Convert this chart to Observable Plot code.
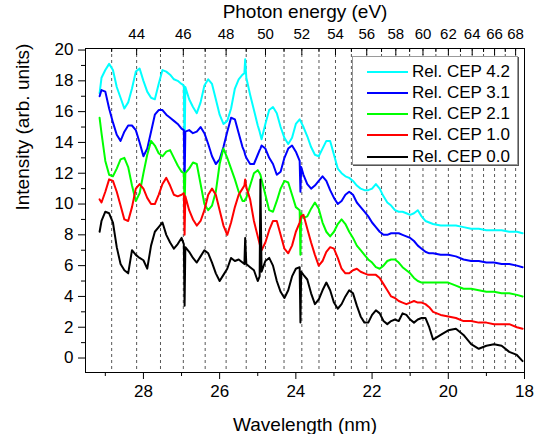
<!DOCTYPE html>
<html>
<head>
<meta charset="utf-8">
<script src="https://cdn.jsdelivr.net/npm/d3@7"></script>
<script src="https://cdn.jsdelivr.net/npm/@observablehq/plot@0.6"></script>
<style>
  body { margin: 0; background: #fff; }
  #wrap { position: relative; width: 535px; height: 434px; font-family: "Liberation Sans", Arial, sans-serif; }
  #legend { position: absolute; left: 352px; top: 56px; width: 166px; height: 109px; background: #fff;
            border: 1px solid #9a9a9a; box-shadow: 1px 1px 0 #555; box-sizing: border-box; }
  .lrow { position: absolute; left: 0; height: 20px; width: 166px; }
  .lline { position: absolute; left: 14px; width: 41px; top: 9px; height: 2px; }
  .ltext { position: absolute; left: 59px; top: 0; font-size: 17px; line-height: 20px; color: #000; white-space: nowrap; }
</style>
</head>
<body>
<div id="wrap"><div id="legend"></div></div>
<script>
// Wavelength grid (nm)
const wavelength = [29.15,29.1,29.0,28.9,28.8,28.7,28.6,28.5,28.4,28.3,28.2,28.1,28.0,27.9,27.8,27.7,27.6,27.5,27.4,27.3,27.2,27.1,27.0,26.94,26.92,26.9,26.8,26.7,26.6,26.5,26.4,26.3,26.2,26.1,26.0,25.9,25.8,25.7,25.6,25.5,25.4,25.35,25.33,25.3,25.2,25.1,25.0,24.95,24.93,24.9,24.8,24.7,24.6,24.5,24.4,24.3,24.2,24.1,24.0,23.9,23.88,23.86,23.8,23.7,23.6,23.5,23.4,23.3,23.2,23.1,23.0,22.9,22.8,22.7,22.6,22.5,22.4,22.3,22.2,22.1,22.0,21.9,21.8,21.7,21.6,21.5,21.4,21.3,21.2,21.1,21.0,20.9,20.8,20.7,20.6,20.5,20.4,20.2,20.0,19.8,19.6,19.4,19.2,19.0,18.8,18.6,18.4,18.2,18.05];

// Intensity series (arb. units)
const cep42 = [17.2,18.2,18.7,19.1,18.7,17.6,16.9,16.2,16.6,17.5,18.6,18.8,18.0,17.3,16.9,16.8,17.8,18.7,18.6,18.4,18.1,18.0,17.8,17.7,13.4,17.6,16.8,16.3,15.9,16.6,17.7,18.1,17.8,16.8,15.8,15.2,15.4,16.2,17.5,18.1,18.4,18.5,19.4,18.2,17.1,16.1,15.1,14.7,14.5,14.2,15.2,16.1,16.3,15.9,15.0,14.3,13.9,14.3,15.2,15.5,15.4,15.3,15.0,14.4,13.7,13.2,13.1,13.6,14.1,14.1,13.2,12.3,12.0,11.8,11.7,11.5,11.2,11.0,10.9,10.9,11.0,11.3,11.0,10.5,10.1,9.9,9.6,9.5,9.5,9.4,9.3,9.4,9.6,9.2,8.9,8.8,8.7,8.6,8.6,8.6,8.5,8.4,8.4,8.3,8.3,8.3,8.2,8.2,8.1];
const cep31 = [17.0,17.4,17.3,16.2,15.3,14.5,14.1,14.7,15.1,15.1,14.8,14.0,13.1,13.6,14.7,15.8,16.1,16.1,15.8,15.6,15.4,15.2,14.9,14.8,11.3,14.7,14.8,14.6,14.7,15.0,14.6,13.9,13.1,12.6,12.9,13.7,14.7,15.6,15.5,14.6,13.7,13.4,13.2,13.0,12.6,12.6,13.2,13.5,13.6,13.8,13.6,13.0,12.6,11.9,12.1,13.0,13.6,13.8,13.4,12.8,10.8,12.4,11.9,11.3,11.0,11.2,11.5,11.8,11.5,10.9,10.4,10.0,10.2,10.6,10.8,10.6,10.1,9.8,9.5,9.2,8.8,8.5,8.2,8.0,8.0,8.1,8.1,8.1,8.0,7.9,7.8,7.6,7.3,7.1,6.9,6.8,6.8,6.7,6.7,6.6,6.4,6.3,6.3,6.2,6.2,6.1,6.1,6.0,5.9];
const cep21 = [15.6,14.6,12.8,11.9,11.8,12.3,12.9,13.0,12.4,11.2,10.2,10.7,12.0,13.2,14.1,13.8,13.3,13.1,13.4,13.5,13.0,12.5,12.1,12.0,9.8,12.0,12.3,12.7,12.6,11.3,10.0,9.6,9.9,10.8,12.6,13.6,13.0,12.3,11.6,10.8,10.2,10.2,10.3,10.4,11.2,12.0,12.2,12.0,11.9,11.6,10.6,9.6,9.5,10.2,11.0,11.5,11.4,10.6,9.8,9.6,6.7,9.4,9.1,9.2,9.7,10.1,9.7,8.8,8.2,7.9,8.2,8.7,9.0,8.7,8.2,7.8,7.3,7.0,6.7,6.4,6.2,5.9,5.8,6.0,6.3,6.4,6.4,6.2,5.9,5.7,5.5,5.2,5.0,4.9,4.9,4.9,4.9,4.9,4.9,4.7,4.5,4.5,4.4,4.3,4.3,4.2,4.2,4.1,4.0];
const cep10 = [10.3,10.1,10.8,11.6,11.5,10.8,9.9,9.0,8.9,9.8,11.0,11.3,11.0,10.4,10.0,10.0,10.6,11.3,11.7,11.2,10.6,10.5,10.6,10.7,8.0,10.5,9.6,9.0,8.6,8.9,9.6,10.6,11.0,10.6,9.6,8.6,8.0,8.8,9.8,10.6,11.0,11.2,11.6,11.1,10.3,8.9,7.9,7.4,7.2,7.0,7.5,8.3,8.9,8.9,8.0,7.1,6.8,7.3,8.2,8.8,9.0,9.2,9.3,8.4,7.5,6.7,6.0,6.3,6.9,7.2,7.1,6.5,5.8,5.5,5.5,5.7,5.8,5.6,5.5,5.4,5.4,5.4,5.2,4.8,4.4,4.0,3.9,3.7,3.6,3.5,3.6,3.7,3.6,3.6,3.5,3.3,3.0,2.8,2.7,2.6,2.4,2.4,2.3,2.3,2.2,2.2,2.2,2.0,1.9];
const cep00 = [8.2,8.9,9.5,9.4,8.8,7.2,6.1,5.7,5.5,7.0,6.7,6.5,6.35,5.8,7.3,8.2,8.5,8.8,8.0,7.5,7.1,7.4,7.8,7.4,3.4,7.2,6.9,6.5,6.2,6.6,7.0,6.8,6.2,5.5,5.0,5.4,5.8,6.5,6.3,6.4,6.2,6.1,7.8,6.1,5.9,5.7,5.0,5.3,11.6,5.6,6.3,6.5,6.0,5.0,4.3,3.9,4.4,5.3,5.8,5.9,2.3,5.6,5.4,5.1,4.2,3.5,3.8,4.4,4.9,4.4,3.6,3.2,3.5,4.0,4.4,4.2,3.4,2.7,2.3,2.3,2.8,3.1,2.9,2.4,2.2,2.4,2.5,2.4,2.9,2.8,2.5,2.3,2.5,2.6,2.6,2.0,1.2,1.5,1.8,1.9,1.5,0.9,0.6,0.8,0.9,0.8,0.4,0.2,-0.2];

const seriesNames = ["Rel. CEP 4.2", "Rel. CEP 3.1", "Rel. CEP 2.1", "Rel. CEP 1.0", "Rel. CEP 0.0"];
const seriesColors = ["#00ffff", "#0000ff", "#00ff00", "#ff0000", "#000000"];
const seriesValues = [cep42, cep31, cep21, cep10, cep00];

// Axis ticks
const wavelengthTicks = [18, 20, 22, 24, 26, 28];
const wavelengthMinor = [19, 21, 23, 25, 27, 29];
const intensityTicks = [0, 2, 4, 6, 8, 10, 12, 14, 16, 18, 20];
const intensityMinor = [1, 3, 5, 7, 9, 11, 13, 15, 17, 19];
const energyTicks = [44, 46, 48, 50, 52, 54, 56, 58, 60, 62, 64, 66, 68];
const energyMinor = [43, 45, 47, 49, 51, 53, 55, 57, 59, 61, 63, 65, 67];
const energyGrid = [43,44,45,46,47,48,49,50,51,52,53,54,55,56,57,58,59,60,61,62,63,64,65,66,67,68];

const HC = 1239.84; // eV·nm
const toLambda = e => HC / e;

const rows = seriesNames.map((name, s) => wavelength.map((w, i) => ({series: name, wavelength: w, intensity: seriesValues[s][i]})));

const font = "Liberation Sans, Arial, sans-serif";
const chart = Plot.plot({
  width: 535,
  height: 434,
  marginLeft: 85,
  marginRight: 11,
  marginTop: 48,
  marginBottom: 62,
  style: {fontFamily: font, background: "white", color: "black", overflow: "visible"},
  x: {domain: [29.52, 18]},
  y: {domain: [-0.94, 20.1]},
  marks: [
    Plot.ruleX(energyGrid.map(toLambda), {stroke: "#444", strokeWidth: 0.9, strokeDasharray: "3,3"}),
    ...rows.map((data, s) => Plot.line(data, {x: "wavelength", y: "intensity", stroke: seriesColors[s], strokeWidth: 2})),
    Plot.frame({stroke: "#000", strokeWidth: 1}),
    Plot.axisX(wavelengthTicks, {anchor: "bottom", tickSize: 7, tickPadding: 5, fontSize: 17, label: null}),
    Plot.axisX(wavelengthMinor, {anchor: "bottom", tickSize: 4, tickFormat: () => "", label: null}),
    Plot.axisY(intensityTicks, {anchor: "left", tickSize: 7, tickPadding: 5, fontSize: 17, label: null}),
    Plot.axisY(intensityMinor, {anchor: "left", tickSize: 4, tickFormat: () => "", label: null}),
    Plot.axisX(energyTicks.map(toLambda), {anchor: "top", tickSize: 0, tickPadding: 10, fontSize: 15, label: null, tickFormat: d => String(Math.round(HC / d))}),
    Plot.axisX(energyTicks.map(toLambda), {anchor: "top", tickSize: -6, tickFormat: () => "", label: null}),
    Plot.axisX(energyMinor.map(toLambda), {anchor: "top", tickSize: -3, tickFormat: () => "", label: null}),
    Plot.text(["Wavelength (nm)"], {text: d => d, frameAnchor: "bottom", lineAnchor: "middle", dy: 52, fontSize: 19}),
    Plot.text(["Photon energy (eV)"], {text: d => d, frameAnchor: "top", lineAnchor: "middle", dy: -37, fontSize: 19}),
    Plot.text(["Intensity (arb. units)"], {text: d => d, frameAnchor: "left", lineAnchor: "middle", dx: -63, rotate: -90, fontSize: 19})
  ]
});
document.getElementById("wrap").prepend(chart);

// Legend
const legend = document.getElementById("legend");
const rowTops = [5, 26, 47, 68, 90];
seriesNames.forEach((name, i) => {
  const row = document.createElement("div");
  row.className = "lrow";
  row.style.top = rowTops[i] + "px";
  const line = document.createElement("div");
  line.className = "lline";
  line.style.background = seriesColors[i];
  const txt = document.createElement("div");
  txt.className = "ltext";
  txt.textContent = name;
  row.appendChild(line);
  row.appendChild(txt);
  legend.appendChild(row);
});
</script>
</body>
</html>
